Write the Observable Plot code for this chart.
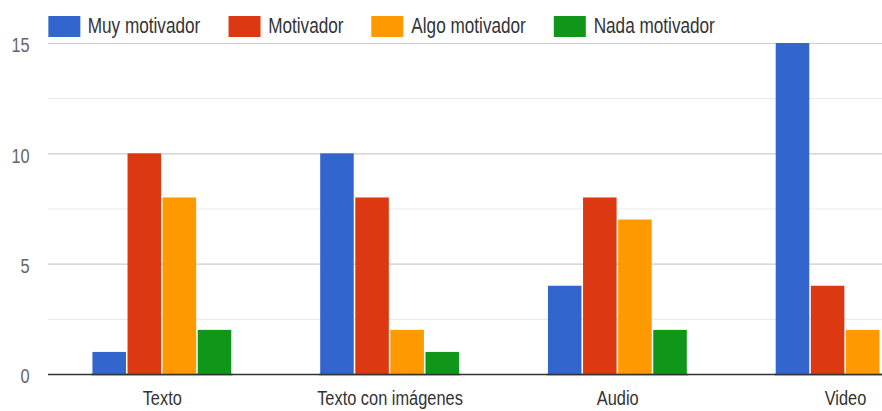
<!DOCTYPE html>
<html>
<head>
<meta charset="utf-8">
<script src="https://cdn.jsdelivr.net/npm/d3@7"></script>
<script src="https://cdn.jsdelivr.net/npm/@observablehq/plot@0.6"></script>
<style>
  html, body { margin: 0; padding: 0; background: white; overflow: hidden; }
  #outer { position: relative; width: 882px; height: 411px; overflow: hidden; background: white; }
  #wrap { position: absolute; top: 0; left: 0; width: 1230px; height: 411px; transform: scaleX(0.78); transform-origin: 0 0; }
  #legend { position: absolute; top: 13px; left: 61.5px; display: flex; align-items: center; z-index: 3;
    font-family: 'Liberation Sans', Arial, sans-serif; font-size: 22px; color: #333; white-space: nowrap; }
  .item { display: flex; align-items: center; margin-right: 36px; }
  .sw { width: 41px; height: 21px; margin-right: 10px; }
  .layer { position: absolute; top: 0; left: 0; }
</style>
</head>
<body>
<div id="outer">
  <div id="wrap">
    <div id="grid" class="layer"></div>
    <div id="bars" class="layer"></div>
    <div id="legend"></div>
  </div>
</div>
<script>
const categories = ["Texto", "Texto con imágenes", "Audio", "Video"];
const series = ["Muy motivador", "Motivador", "Algo motivador", "Nada motivador"];
const muyMotivador = [1, 10, 4, 15];
const motivador = [10, 8, 8, 4];
const algoMotivador = [8, 2, 7, 2];
const nadaMotivador = [2, 1, 2, 0];
const colors = ["#3366cc", "#dc3912", "#ff9900", "#109618"];
const yTicks = [0, 5, 10, 15];
const minorTicks = [2.5, 7.5, 12.5];

const seriesValues = [muyMotivador, motivador, algoMotivador, nadaMotivador];
const data = categories.flatMap((c, i) =>
  series.map((s, j) => ({category: c, series: s, value: seriesValues[j][i]}))
);

// legend
const legend = document.getElementById("legend");
series.forEach((s, j) => {
  const item = document.createElement("div");
  item.className = "item";
  const sw = document.createElement("div");
  sw.className = "sw";
  sw.style.background = colors[j];
  const t = document.createElement("span");
  t.textContent = s;
  item.appendChild(sw);
  item.appendChild(t);
  legend.appendChild(item);
});

const W = 1230, H = 411;
const common = {
  width: W,
  height: H,
  marginLeft: 61.5,
  marginRight: 0,
  marginTop: 43,
  marginBottom: 37
};
const font = "'Liberation Sans', Arial, sans-serif";

// background layer: gridlines, baseline and y axis
const grid = Plot.plot({
  ...common,
  style: {fontFamily: font, fontSize: "21px", color: "#666", background: "white"},
  y: {domain: [0, 15]},
  marks: [
    Plot.ruleY(minorTicks, {stroke: "#ebebeb", strokeWidth: 1.2}),
    Plot.ruleY(yTicks.slice(1), {stroke: "#cccccc", strokeWidth: 1.2}),
    Plot.ruleY([0], {stroke: "#333", strokeWidth: 1.6}),
    Plot.axisY({ticks: yTicks, tickSize: 0, tickPadding: 24, label: null, dy: 2, tickFormat: d => d})
  ]
});
document.getElementById("grid").appendChild(grid);

// foreground layer: grouped bars
const bars = Plot.plot({
  ...common,
  style: {fontFamily: font, fontSize: "21px", color: "#333", background: "transparent"},
  fx: {domain: categories, paddingInner: 0.3816, paddingOuter: 0.1886, label: null, axis: "bottom", tickSize: 0, tickPadding: 16},
  x: {domain: series, axis: null, paddingInner: 0.05, paddingOuter: 0},
  y: {domain: [0, 15], axis: null},
  color: {domain: series, range: colors},
  marks: [
    Plot.barY(data, {fx: "category", x: "series", y: "value", fill: "series"}),
    Plot.ruleY([0], {stroke: "#333", strokeWidth: 1.6})
  ]
});
document.getElementById("bars").appendChild(bars);
</script>
</body>
</html>
